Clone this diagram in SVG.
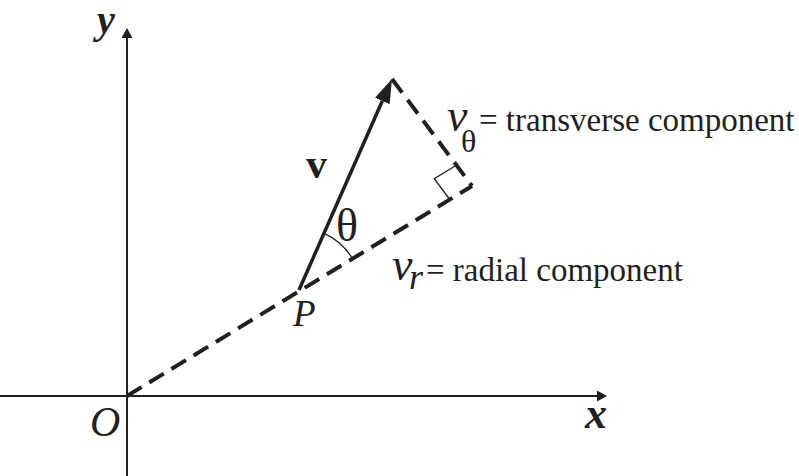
<svg xmlns="http://www.w3.org/2000/svg" width="799" height="476" viewBox="0 0 799 476">
  <style>
    text { font-family: "Liberation Serif", "Times New Roman", serif; fill: #231f20; }
    .it { font-style: italic; }
    .bi { font-style: italic; font-weight: bold; }
    .b { font-weight: bold; }
    .axis { stroke: #231f20; stroke-width: 2; fill: none; }
    .vec { stroke: #231f20; stroke-width: 3.5; fill: none; }
    .dash { stroke: #231f20; stroke-width: 4; fill: none; stroke-dasharray: 17 9; }
    .thin { stroke: #231f20; stroke-width: 1.3; fill: none; }
  </style>
  <defs>
    <marker id="axhead" viewBox="0 0 10 11" refX="0" refY="5.5" markerWidth="10" markerHeight="11" markerUnits="userSpaceOnUse" orient="auto">
      <path d="M0,0 L10,5.5 L0,11 Z" fill="#231f20"/>
    </marker>
    <marker id="vhead" viewBox="0 0 24 16" refX="0" refY="8" markerWidth="24" markerHeight="16" markerUnits="userSpaceOnUse" orient="auto">
      <path d="M0,0 L24,8 L0,16 Z" fill="#231f20"/>
    </marker>
  </defs>
  <rect width="799" height="476" fill="#ffffff"/>

  <g id="connectors">
    <line id="y-axis" class="axis" x1="127" y1="476" x2="127" y2="38" marker-end="url(#axhead)"/>
    <line id="x-axis" class="axis" x1="0" y1="396" x2="597" y2="396" marker-end="url(#axhead)"/>
    <line id="radial" class="dash" x1="127" y1="396" x2="472" y2="186"/>
    <line id="transverse" class="dash" x1="392" y1="79" x2="472" y2="186"/>
    <line id="vector-v" class="vec" x1="299" y1="290" x2="382.3" y2="101" marker-end="url(#vhead)"/>
    <path id="right-angle" class="thin" d="M449.8,199.5 L434.2,178.7 L456.4,165.2"/>
    <path id="theta-arc" class="thin" d="M324,233.3 A62,62 0 0 1 352.1,258.1"/>
  </g>

  <g id="label-y"><text class="bi" x="97" y="33" font-size="40">y</text></g>
  <g id="label-x"><text class="bi" x="585" y="428" font-size="44">x</text></g>
  <g id="label-O"><text class="it" x="90" y="436" font-size="42">O</text></g>
  <g id="label-P"><text class="it" x="293" y="326" font-size="37">P</text></g>
  <g id="label-v"><text class="b" x="306" y="178" font-size="42">v</text></g>
  <g id="label-theta"><text x="336" y="241" font-size="46">θ</text></g>
  <g id="label-vtheta">
    <text class="it" x="447" y="131" font-size="46">v</text>
    <text x="461" y="152" font-size="32">θ</text>
    <text x="479" y="131" font-size="33">= transverse component</text>
  </g>
  <g id="label-vr">
    <text class="it" x="392" y="280" font-size="46">v</text>
    <text class="it" x="409" y="289" font-size="36">r</text>
    <text x="426" y="281" font-size="33">= radial component</text>
  </g>
</svg>
